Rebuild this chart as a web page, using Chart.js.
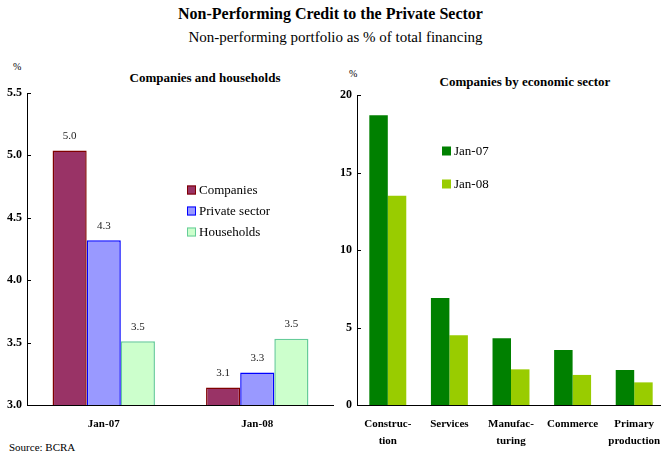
<!DOCTYPE html>
<html>
<head>
<meta charset="utf-8">
<script src="https://cdn.jsdelivr.net/npm/chart.js@4.4.0/dist/chart.umd.min.js"></script>
<style>
    html, body { margin: 0; padding: 0; background: #fff; overflow: hidden; }
    body { width: 661px; height: 456px; position: relative; font-family: "Liberation Serif", serif; color: #000; }
    .txt { position: absolute; white-space: nowrap; }
    canvas { position: absolute; }
</style>
</head>
<body>
<div class="txt" style="left:0;width:661px;top:5px;text-align:center;font-weight:bold;font-size:16px;">Non-Performing Credit to the Private Sector</div>
<div class="txt" style="left:0;width:671px;top:29px;text-align:center;font-size:15px;">Non-performing portfolio as % of total financing</div>
<div class="txt" style="left:13px;top:61px;font-size:10px;">%</div>
<div class="txt" style="left:349px;top:68px;font-size:10px;">%</div>
<div class="txt" style="left:205px;top:70px;transform:translateX(-50%);font-weight:bold;font-size:13px;">Companies and households</div>
<div class="txt" style="left:525px;top:74px;transform:translateX(-50%);font-weight:bold;font-size:13px;">Companies by economic sector</div>
<div class="txt" style="left:9px;top:441px;font-size:11px;">Source: BCRA</div>

<canvas id="leftChart" width="334" height="380" style="left:0;top:60px;"></canvas>
<canvas id="rightChart" width="330" height="395" style="left:335px;top:60px;"></canvas>

<script>
// left panel: companies and households
const periods = ['Jan-07', 'Jan-08'];
const companies = [5.04, 3.14];
const privateSector = [4.32, 3.26];
const households = [3.51, 3.53];
const leftTicks = [3.0, 3.5, 4.0, 4.5, 5.0, 5.5];

// right panel: companies by economic sector
const sectors = [['Construc-', 'tion'], 'Services', ['Manufac-', 'turing'], 'Commerce', ['Primary', 'production']];
const sectorJan07 = [18.7, 6.9, 4.3, 3.55, 2.26];
const sectorJan08 = [13.5, 4.5, 2.3, 1.94, 1.46];
const rightTicks = [0, 5, 10, 15, 20];

const serif = '"Liberation Serif", serif';

// value labels above bars
const valueLabels = {
    id: 'valueLabels',
    afterDatasetsDraw(chart, args, opts) {
        if (!opts.show) return;
        const ctx = chart.ctx;
        ctx.save();
        ctx.font = '11px ' + serif;
        ctx.fillStyle = '#222';
        ctx.textAlign = 'center';
        ctx.textBaseline = 'bottom';
        chart.data.datasets.forEach((ds, i) => {
            chart.getDatasetMeta(i).data.forEach((bar, j) => {
                ctx.fillText(ds.data[j].toFixed(1), bar.x, bar.y - 9);
            });
        });
        ctx.restore();
    }
};

// legend drawn inside the plot, plus small inward ticks on the y axis
const innerLegend = {
    id: 'innerLegend',
    afterDraw(chart, args, opts) {
        const ctx = chart.ctx;
        ctx.save();
        const y = chart.scales.y;
        ctx.strokeStyle = '#000';
        ctx.lineWidth = 1;
        y.ticks.forEach(t => {
            const py = Math.round(y.getPixelForValue(t.value)) + 0.5;
            ctx.beginPath();
            ctx.moveTo(y.right, py);
            ctx.lineTo(y.right + 4, py);
            ctx.stroke();
        });
        ctx.font = '13px ' + serif;
        ctx.textBaseline = 'middle';
        ctx.fillStyle = '#000';
        chart.data.datasets.forEach((ds, i) => {
            const cy = opts.y + i * opts.gap;
            ctx.fillStyle = ds.backgroundColor;
            ctx.fillRect(opts.x, cy - 4.5, 9, 9);
            if (ds.borderWidth) {
                ctx.strokeStyle = ds.borderColor;
                ctx.strokeRect(opts.x + 0.5, cy - 4, 8, 8);
            }
            ctx.fillStyle = '#000';
            ctx.fillText(ds.label, opts.x + 12, cy + 1);
        });
        ctx.restore();
    }
};

function axisY(min, max, list, width) {
    return {
        min: min,
        max: max,
        afterBuildTicks: s => { s.ticks = list.map(v => ({ value: v })); },
        afterFit: s => { s.width = width; },
        grid: { display: false, drawTicks: false },
        border: { color: '#000', width: 1 },
        ticks: {
            padding: 5,
            color: '#000',
            font: { family: serif, size: 12, weight: 'bold' },
            callback: v => list[0] === 3 ? v.toFixed(1) : v
        }
    };
}

function axisX(height) {
    return {
        // fixed height, and no extra room reserved for the outer labels
        afterFit: s => {
            s.height = height;
            s.paddingLeft = 0;
            s.paddingRight = 0;
        },
        grid: { display: false, drawTicks: false },
        border: { color: '#000', width: 1 },
        ticks: {
            padding: 11,
            color: '#000',
            maxRotation: 0,
            autoSkip: false,
            font: { family: serif, size: 11, weight: 'bold', lineHeight: 1.5 }
        }
    };
}

document.addEventListener('DOMContentLoaded', function () {
    new Chart(document.getElementById('leftChart'), {
        type: 'bar',
        data: {
            labels: periods,
            datasets: [{
                label: 'Companies',
                data: companies,
                backgroundColor: '#993366',
                borderColor: '#800000',
                borderWidth: 1.5
            }, {
                label: 'Private sector',
                data: privateSector,
                backgroundColor: '#9999FF',
                borderColor: '#0000FF',
                borderWidth: 1.5
            }, {
                label: 'Households',
                data: households,
                backgroundColor: '#CCFFCC',
                borderColor: '#66CC99',
                borderWidth: 1.5
            }]
        },
        options: {
            responsive: false,
            animation: false,
            categoryPercentage: 0.667,
            barPercentage: 1,
            layout: { padding: { top: 33, right: 0, left: 0, bottom: 0 } },
            plugins: {
                legend: { display: false },
                tooltip: { enabled: false },
                valueLabels: { show: true },
                innerLegend: { x: 187, y: 130, gap: 21 }
            },
            scales: { x: axisX(35), y: axisY(3, 5.5, leftTicks, 27) }
        },
        plugins: [valueLabels, innerLegend]
    });

    new Chart(document.getElementById('rightChart'), {
        type: 'bar',
        data: {
            labels: sectors,
            datasets: [{
                label: 'Jan-07',
                data: sectorJan07,
                backgroundColor: '#008000',
                borderWidth: 0
            }, {
                label: 'Jan-08',
                data: sectorJan08,
                backgroundColor: '#99CC00',
                borderWidth: 0
            }]
        },
        options: {
            responsive: false,
            animation: false,
            categoryPercentage: 0.6,
            barPercentage: 1,
            layout: { padding: { top: 35, right: 0, left: 0, bottom: 0 } },
            plugins: {
                legend: { display: false },
                tooltip: { enabled: false },
                valueLabels: { show: false },
                innerLegend: { x: 107, y: 91, gap: 33 }
            },
            scales: { x: axisX(50), y: axisY(0, 20, rightTicks, 22) }
        },
        plugins: [valueLabels, innerLegend]
    });
});
</script>
</body>
</html>
